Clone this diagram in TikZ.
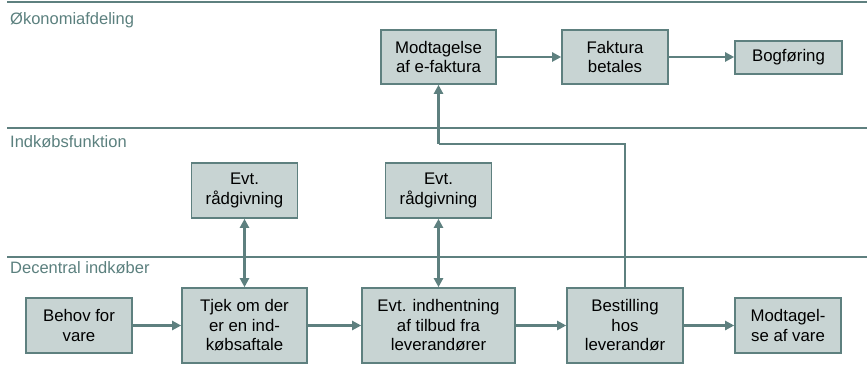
\documentclass[tikz,border=0pt]{standalone}
\usepackage{fontspec}
\setmainfont{Liberation Sans}
\usetikzlibrary{arrows.meta}
\definecolor{laneline}{RGB}{94,128,127}
\definecolor{boxfill}{RGB}{200,212,211}
\definecolor{lanetext}{RGB}{91,128,126}
\tikzset{
  lane/.style={draw=laneline, line width=2pt},
  lanelabel/.style={anchor=base west, inner sep=0pt, text=lanetext,
    font=\fontsize{16.5}{19}\selectfont},
  proc/.style={draw=laneline, fill=boxfill, line width=1.6pt, inner sep=0pt,
    align=center, font=\fontsize{16.8}{19.5}\selectfont},
  flow/.style={draw=laneline, line width=2.2pt,
    -{Triangle[length=9pt,width=9pt]}},
  twoway/.style={draw=laneline, line width=2.2pt,
    {Triangle[length=9pt,width=9pt]}-{Triangle[length=9pt,width=9pt]}},
  link/.style={draw=laneline, line width=2.2pt}
}
\begin{document}
\begin{tikzpicture}[x=1pt, y=-1pt]
\useasboundingbox (0,0) rectangle (867,382);

% swimlane separators
\draw[lane] (7,2) -- (867,2);
\draw[lane] (7,128) -- (867,128);
\draw[lane] (7,257) -- (867,257);

% lane titles
\node[lanelabel] (lane1) at (10,25) {Økonomiafdeling};
\node[lanelabel] (lane2) at (10,148) {Indkøbsfunktion};
\node[lanelabel] (lane3) at (10,273) {Decentral indkøber};

% finance department
\node[proc, minimum width=115pt, minimum height=54pt] (efak) at (438.5,57) {Modtagelse\\af e-faktura};
\node[proc, minimum width=106pt, minimum height=54pt] (betal) at (615,57) {Faktura\\betales};
\node[proc, minimum width=107pt, minimum height=33pt] (bog) at (788.5,57.5) {Bogføring};

% purchasing function
\node[proc, minimum width=106pt, minimum height=55pt] (raad1) at (244.5,190.5) {Evt.\\rådgivning};
\node[proc, minimum width=106pt, minimum height=55pt] (raad2) at (438.5,190.5) {Evt.\\rådgivning};

% local buyer
\node[proc, minimum width=106pt, minimum height=55pt] (behov) at (79,325.5) {Behov for\\vare};
\node[proc, minimum width=125pt, minimum height=75pt] (tjek) at (244.5,325.5) {Tjek om der\\er en ind-\\købsaftale};
\node[proc, minimum width=153pt, minimum height=75pt] (tilbud) at (438.5,325.5) {Evt. indhentning\\af tilbud fra\\leverandører};
\node[proc, minimum width=116pt, minimum height=75pt] (best) at (625,325.5) {Bestilling\\hos\\leverandør};
\node[proc, minimum width=106pt, minimum height=55pt] (modt) at (788,325.5) {Modtagel-\\se af vare};

% connectors
\draw[flow] (efak.east) -- (betal.west);
\draw[flow] (betal.east) -- (bog.west |- betal.east);
\draw[flow] (behov.east) -- (tjek.west);
\draw[flow] (tjek.east) -- (tilbud.west);
\draw[flow] (tilbud.east) -- (best.west);
\draw[flow] (best.east) -- (modt.west);
\draw[twoway] (raad1.south) -- (tjek.north);
\draw[twoway] (raad2.south) -- (tilbud.north);
\coordinate (turn) at (438.5,144);
\draw[link] (best.north) |- (turn);
\draw[flow] (turn) -- (efak.south);
\end{tikzpicture}
\end{document}
